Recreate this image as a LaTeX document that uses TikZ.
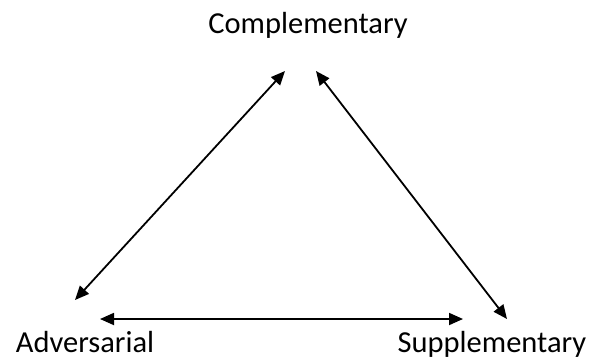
\documentclass[tikz,border=0pt]{standalone}
\usepackage{fontspec}
\setmainfont{Carlito}
\usetikzlibrary{arrows.meta}
\tikzset{
  lbl/.style={font=\fontsize{30.5}{36}\selectfont, inner sep=0pt, anchor=base},
  dbl/.style={line width=1.8pt, {Triangle[length=14pt,width=12pt]}-{Triangle[length=14pt,width=12pt]}}
}
\begin{document}
\begin{tikzpicture}[x=1pt,y=-1pt]
\useasboundingbox (0,0) rectangle (589,360);
\node[lbl] (comp) at (308,33) {Complementary};
\node[lbl] (adv) at (85,352) {Adversarial};
\node[lbl] (supp) at (492,352) {Supplementary};
\coordinate (cl) at (285,71);
\coordinate (cr) at (316,71);
\coordinate (al) at (75,300);
\coordinate (ah) at (100,319);
\coordinate (sh) at (463,319);
\coordinate (sd) at (507,319);
\draw[dbl] (al) -- (cl);
\draw[dbl] (cr) -- (sd);
\draw[dbl] (ah) -- (sh);
\end{tikzpicture}
\end{document}
